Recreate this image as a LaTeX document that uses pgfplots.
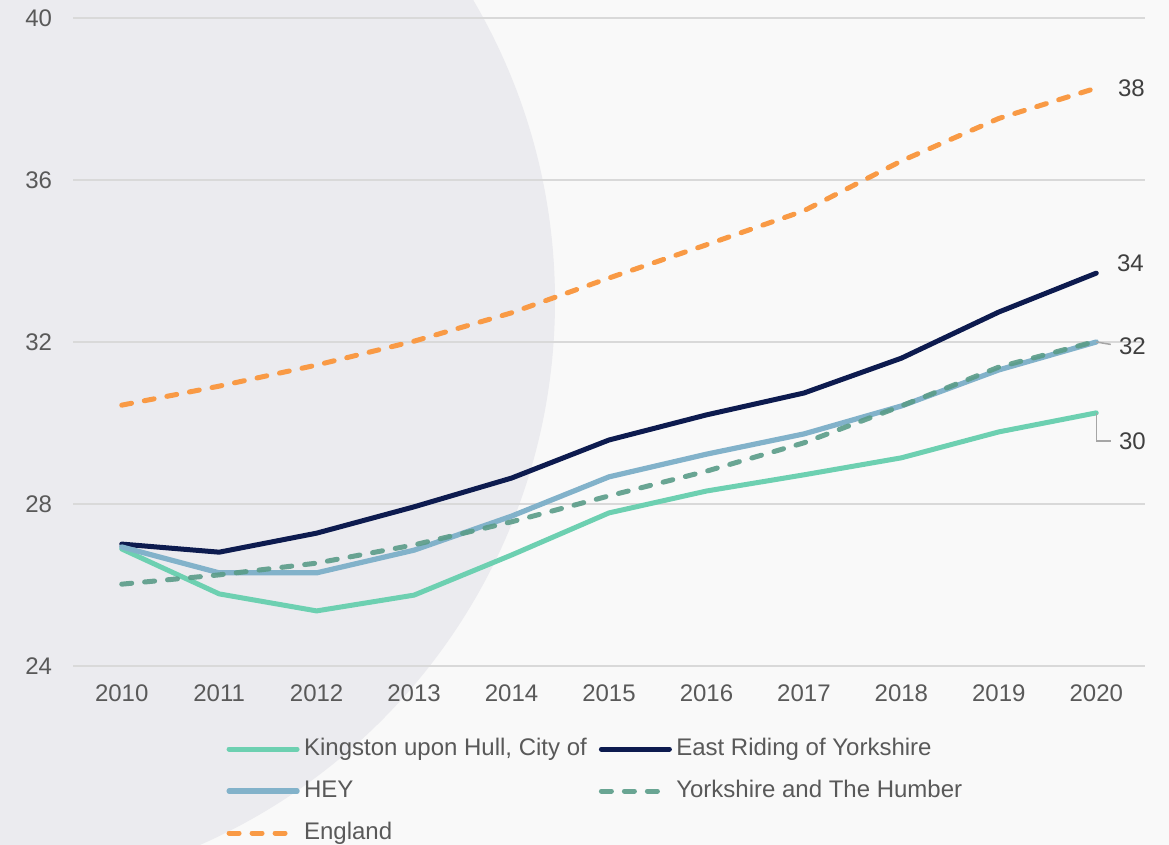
\documentclass[border=0pt]{standalone}
\usepackage{fontspec}
\setmainfont{Liberation Sans}
\usepackage{pgfplots}
\pgfplotsset{compat=1.18}
\definecolor{bgc}{HTML}{F9F9F9}
\definecolor{circc}{HTML}{EBEBEF}
\definecolor{gridc}{HTML}{D9D9D9}
\definecolor{tickc}{HTML}{595959}
\definecolor{lblc}{HTML}{404040}
\definecolor{leadc}{HTML}{A6A6A6}
\definecolor{hull}{HTML}{6DD0B1}
\definecolor{eriding}{HTML}{0D1B4F}
\definecolor{hey}{HTML}{82B2CA}
\definecolor{yh}{HTML}{5A9C88}
\definecolor{eng}{HTML}{F99A45}
\newcommand{\fs}{\fontsize{12}{14}\selectfont}
\begin{document}
\begin{tikzpicture}
\fill[bgc] (0,0) rectangle (584.5pt,422.5pt);
\begin{scope}
\clip (0,0) rectangle (584.5pt,422.5pt);
\fill[circc] (-19.5pt,272pt) circle (297pt);
\end{scope}
\useasboundingbox (0,0) rectangle (584.5pt,422.5pt);
\begin{axis}[
  at={(36.5pt,89.5pt)}, anchor=south west,
  scale only axis, width=536pt, height=324pt,
  xmin=2009.5, xmax=2020.5, ymin=24, ymax=40,
  axis line style={draw=none},
  xtick={2010,2011,2012,2013,2014,2015,2016,2017,2018,2019,2020},
  ytick={24,28,32,36,40},
  major tick length=0pt,
  ymajorgrids, grid style={gridc, line width=0.75pt},
  /pgf/number format/1000 sep={},
  /pgf/number format/assume math mode=true,
  xticklabel style={anchor=north, inner sep=0pt, yshift=-9.25pt, text=tickc, font=\fs},
  yticklabel style={anchor=east, inner sep=0pt, xshift=-10.3pt, text=tickc, font=\fs},
  clip=false,
  legend columns=2,
  legend cell align=left,
  legend style={at={(axis description cs:0.1428,-0.109)}, anchor=north west,
    draw=none, fill=none, inner sep=0pt, font=\fs, text=tickc,
    column sep=2.2pt, row sep=9pt,
    /tikz/column 2/.style={column sep=6.0pt},
    nodes={inner sep=0pt, text height=9pt, text depth=3pt, anchor=west}},
  legend image code/.code={\draw[#1] (0pt,0pt) -- (34pt,0pt);},
]
\addplot[hull, line width=2.5pt, line join=round, line cap=round] coordinates {
(2010,26.89) (2011,25.78) (2012,25.36) (2013,25.75) (2014,26.74) (2015,27.78)
(2016,28.32) (2017,28.72) (2018,29.14) (2019,29.78) (2020,30.25)};
\addlegendentry{Kingston upon Hull, City of}
\addplot[eriding, line width=2.5pt, line join=round, line cap=round] coordinates {
(2010,27.01) (2011,26.81) (2012,27.28) (2013,27.93) (2014,28.64) (2015,29.58)
(2016,30.20) (2017,30.74) (2018,31.60) (2019,32.74) (2020,33.70)};
\addlegendentry{East Riding of Yorkshire}
\addplot[hey, line width=2.6pt, line join=round, line cap=round] coordinates {
(2010,26.94) (2011,26.30) (2012,26.30) (2013,26.86) (2014,27.70) (2015,28.67)
(2016,29.23) (2017,29.73) (2018,30.42) (2019,31.31) (2020,32.00)};
\addlegendentry{HEY}
\addplot[yh, draw opacity=0.9, line width=2.5pt, line join=round, line cap=round, dash pattern=on 5pt off 6.5pt] coordinates {
(2010,26.02) (2011,26.25) (2012,26.54) (2013,26.99) (2014,27.56) (2015,28.20)
(2016,28.81) (2017,29.51) (2018,30.42) (2019,31.38) (2020,32.02)};
\addlegendentry{Yorkshire and The Humber}
\addplot[eng, line width=2.5pt, line join=round, line cap=round, dash pattern=on 5pt off 6.5pt] coordinates {
(2010,30.44) (2011,30.91) (2012,31.43) (2013,32.02) (2014,32.72) (2015,33.58)
(2016,34.40) (2017,35.24) (2018,36.47) (2019,37.52) (2020,38.27)};
\addlegendentry{England}
\draw[leadc, line width=0.75pt] (axis cs:2020,32.0) -- (axis cs:2020.149,31.94);
\draw[leadc, line width=0.75pt] (axis cs:2020,30.25) -- (axis cs:2020,29.56) -- (axis cs:2020.149,29.56);
\node[anchor=west, inner sep=0pt, text=lblc, font=\fs] at (axis cs:2020.22,38.27) {38};
\node[anchor=west, inner sep=0pt, text=lblc, font=\fs] at (axis cs:2020.21,33.95) {34};
\node[anchor=west, inner sep=0pt, text=lblc, font=\fs] at (axis cs:2020.23,31.90) {32};
\node[anchor=west, inner sep=0pt, text=lblc, font=\fs] at (axis cs:2020.23,29.54) {30};
\end{axis}
\end{tikzpicture}
\end{document}
